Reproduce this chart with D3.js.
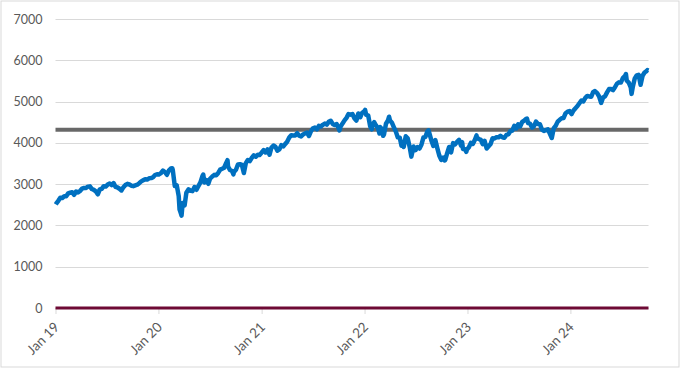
<!DOCTYPE html>
<html><head><meta charset="utf-8">
<script src="https://cdn.jsdelivr.net/npm/d3@7/dist/d3.min.js"></script>
<style>html,body{margin:0;padding:0;background:#fff;}svg{display:block;}</style>
</head><body><div id="chart"></div>
<script>
const dates = [
"2019-01-02","2019-01-04","2019-01-11","2019-01-18","2019-01-25","2019-02-01","2019-02-08","2019-02-15","2019-02-22","2019-03-01","2019-03-08","2019-03-15","2019-03-22","2019-03-29","2019-04-05","2019-04-12","2019-04-18","2019-04-26","2019-05-03","2019-05-10","2019-05-17","2019-05-24","2019-05-31","2019-06-07","2019-06-14","2019-06-21","2019-06-28","2019-07-05","2019-07-12","2019-07-19","2019-07-26","2019-08-02","2019-08-09","2019-08-16","2019-08-23","2019-08-30","2019-09-06","2019-09-13","2019-09-20","2019-09-27","2019-10-04","2019-10-11","2019-10-18","2019-10-25","2019-11-01","2019-11-08","2019-11-15","2019-11-22","2019-11-29","2019-12-06","2019-12-13","2019-12-20","2019-12-27","2019-12-31",
"2020-01-03","2020-01-10","2020-01-17","2020-01-24","2020-01-31","2020-02-07","2020-02-14","2020-02-19","2020-02-21","2020-02-28","2020-03-06","2020-03-13","2020-03-16","2020-03-20","2020-03-23","2020-03-27","2020-04-03","2020-04-09","2020-04-17","2020-04-24","2020-05-01","2020-05-08","2020-05-15","2020-05-22","2020-05-29","2020-06-05","2020-06-08","2020-06-12","2020-06-19","2020-06-26","2020-07-02","2020-07-10","2020-07-17","2020-07-24","2020-07-31","2020-08-07","2020-08-14","2020-08-21","2020-08-28","2020-09-02","2020-09-04","2020-09-11","2020-09-18","2020-09-23","2020-09-25","2020-10-02","2020-10-09","2020-10-16","2020-10-23","2020-10-30","2020-11-06","2020-11-13","2020-11-20","2020-11-27","2020-12-04","2020-12-11","2020-12-18","2020-12-24","2020-12-31",
"2021-01-08","2021-01-15","2021-01-22","2021-01-29","2021-02-05","2021-02-12","2021-02-19","2021-02-26","2021-03-05","2021-03-12","2021-03-19","2021-03-26","2021-04-01","2021-04-09","2021-04-16","2021-04-23","2021-04-30","2021-05-07","2021-05-14","2021-05-21","2021-05-28","2021-06-04","2021-06-11","2021-06-18","2021-06-25","2021-07-02","2021-07-09","2021-07-16","2021-07-23","2021-07-30","2021-08-06","2021-08-13","2021-08-20","2021-08-27","2021-09-03","2021-09-10","2021-09-17","2021-09-24","2021-10-01","2021-10-04","2021-10-08","2021-10-15","2021-10-22","2021-10-29","2021-11-05","2021-11-12","2021-11-19","2021-11-26","2021-12-03","2021-12-10","2021-12-17","2021-12-23","2021-12-31",
"2022-01-03","2022-01-07","2022-01-14","2022-01-21","2022-01-27","2022-01-28","2022-02-04","2022-02-11","2022-02-18","2022-02-23","2022-02-25","2022-03-04","2022-03-08","2022-03-11","2022-03-18","2022-03-25","2022-03-29","2022-04-01","2022-04-08","2022-04-14","2022-04-22","2022-04-29","2022-05-06","2022-05-12","2022-05-13","2022-05-20","2022-05-27","2022-06-03","2022-06-10","2022-06-16","2022-06-24","2022-07-01","2022-07-08","2022-07-15","2022-07-22","2022-07-29","2022-08-05","2022-08-12","2022-08-16","2022-08-19","2022-08-26","2022-09-02","2022-09-09","2022-09-16","2022-09-23","2022-09-30","2022-10-07","2022-10-12","2022-10-14","2022-10-21","2022-10-28","2022-11-04","2022-11-11","2022-11-18","2022-11-25","2022-12-02","2022-12-09","2022-12-13","2022-12-16","2022-12-23","2022-12-28","2022-12-30",
"2023-01-06","2023-01-13","2023-01-20","2023-01-27","2023-02-02","2023-02-03","2023-02-10","2023-02-17","2023-02-24","2023-03-03","2023-03-10","2023-03-17","2023-03-24","2023-03-31","2023-04-07","2023-04-14","2023-04-21","2023-04-28","2023-05-05","2023-05-12","2023-05-19","2023-05-26","2023-06-02","2023-06-09","2023-06-16","2023-06-23","2023-06-30","2023-07-07","2023-07-14","2023-07-21","2023-07-28","2023-07-31","2023-08-04","2023-08-11","2023-08-18","2023-08-25","2023-09-01","2023-09-08","2023-09-15","2023-09-22","2023-09-29","2023-10-06","2023-10-13","2023-10-20","2023-10-27","2023-11-03","2023-11-10","2023-11-17","2023-11-24","2023-12-01","2023-12-08","2023-12-15","2023-12-22","2023-12-29",
"2024-01-05","2024-01-12","2024-01-19","2024-01-26","2024-02-02","2024-02-09","2024-02-16","2024-02-23","2024-03-01","2024-03-08","2024-03-15","2024-03-22","2024-03-28","2024-04-05","2024-04-12","2024-04-19","2024-04-26","2024-05-03","2024-05-10","2024-05-17","2024-05-24","2024-05-31","2024-06-07","2024-06-14","2024-06-21","2024-06-28","2024-07-05","2024-07-12","2024-07-16","2024-07-19","2024-07-26","2024-08-02","2024-08-05","2024-08-09","2024-08-16","2024-08-23","2024-08-30","2024-09-06","2024-09-13","2024-09-20","2024-09-27","2024-09-30","2024-10-04"
];
const indexValues = [
2510,2532,2596,2671,2665,2707,2708,2776,2793,2804,2743,2822,2800,2834,2893,2907,2905,2940,2946,2881,2860,2826,2752,2873,2887,2950,2942,2990,3014,2977,3026,2932,2919,2889,2847,2926,2979,3007,2992,2962,2952,2970,2986,3023,3067,3093,3120,3110,3141,3146,3169,3221,3240,3231,
3235,3265,3330,3295,3226,3328,3380,3386,3338,2954,2972,2711,2386,2305,2237,2541,2489,2790,2875,2837,2831,2930,2864,2955,3044,3194,3232,3041,3098,3009,3130,3185,3225,3216,3271,3351,3373,3397,3508,3580,3427,3341,3319,3237,3298,3348,3477,3484,3465,3270,3510,3585,3557,3638,3699,3663,3709,3703,3756,
3825,3768,3841,3714,3887,3934,3907,3811,3842,3943,3913,3975,4020,4129,4185,4180,4181,4233,4174,4156,4204,4230,4247,4166,4281,4352,4370,4327,4412,4395,4437,4468,4442,4509,4535,4459,4433,4455,4357,4300,4391,4471,4545,4605,4697,4683,4698,4595,4538,4712,4620,4725,4766,
4797,4677,4663,4398,4326,4432,4500,4419,4349,4225,4385,4329,4170,4204,4463,4543,4632,4546,4488,4393,4272,4132,4123,3930,4024,3901,4158,4109,3901,3667,3912,3825,3899,3863,3962,4130,4145,4280,4305,4228,4058,3924,4067,3873,3693,3586,3640,3577,3583,3752,3901,3771,3993,3965,4026,4072,3934,4019,3852,3845,3783,3840,
3895,3999,3973,4071,4180,4136,4090,4079,3970,4046,3862,3917,3971,4109,4105,4138,4133,4169,4136,4124,4192,4205,4282,4299,4410,4348,4450,4399,4505,4536,4582,4589,4478,4464,4370,4406,4516,4457,4450,4320,4288,4308,4327,4224,4117,4358,4415,4514,4559,4595,4604,4719,4755,4770,
4697,4784,4840,4891,4959,5027,5006,5089,5137,5124,5117,5234,5254,5204,5123,4967,5100,5128,5223,5303,5305,5278,5347,5432,5465,5460,5567,5615,5667,5505,5459,5346,5186,5344,5554,5634,5648,5408,5626,5703,5738,5762,5751
];
const averageLevel = 4320;
const zeroLevel = 0;
const yTicks = [0,1000,2000,3000,4000,5000,6000,7000];
const xTickDates = ["2019-01-01","2020-01-01","2021-01-01","2022-01-01","2023-01-01","2024-01-01"];
const xTickLabels = ["Jan 19","Jan 20","Jan 21","Jan 22","Jan 23","Jan 24"];

const W = 681, H = 369;
const parse = d3.timeParse("%Y-%m-%d");
const data = dates.map((d, i) => ({ date: parse(d), value: indexValues[i] }));

const svg = d3.select("#chart").append("svg").attr("width", W).attr("height", H);
svg.append("rect").attr("x", 1).attr("y", 1).attr("width", 678).attr("height", 366)
  .attr("fill", "#fff").attr("stroke", "#d9d9d9").attr("stroke-width", 1);

const mLeft = 55.5, mRight = 648.5, mTop = 19, mBottom = 308;
const x = d3.scaleTime().domain([parse("2019-01-01"), data[data.length - 1].date]).range([mLeft, mRight]);
const y = d3.scaleLinear().domain([0, 7000]).range([mBottom, mTop]);

const font = "Lato, 'Open Sans', sans-serif";

svg.append("g").selectAll("line").data(yTicks).join("line")
  .attr("x1", mLeft).attr("x2", mRight)
  .attr("y1", d => Math.round(y(d)) + 0.5).attr("y2", d => Math.round(y(d)) + 0.5)
  .attr("stroke", "#d9d9d9").attr("stroke-width", 1);

const yAxis = d3.axisLeft(y).tickValues(yTicks).tickSize(0).tickPadding(0).tickFormat(d3.format("d"));
const gy = svg.append("g").attr("transform", `translate(${mLeft - 13},0)`).call(yAxis);
gy.select(".domain").remove();
gy.selectAll("text").attr("fill", "#595959").style("font-family", font).style("font-size", "12.5px");

const xAxis = d3.axisBottom(x).tickValues(xTickDates.map(parse)).tickSize(6).tickPadding(0)
  .tickFormat((d, i) => xTickLabels[i]);
const gx = svg.append("g").attr("transform", `translate(0,${mBottom})`).call(xAxis);
gx.select(".domain").remove();
gx.selectAll(".tick line").attr("stroke", "#d9d9d9");
gx.selectAll("text").attr("fill", "#595959").style("font-family", font).style("font-size", "13.5px")
  .attr("text-anchor", "end").attr("dy", null).attr("y", 0)
  .attr("transform", "translate(4,20) rotate(-45)");

svg.append("line").attr("x1", mLeft).attr("x2", mRight)
  .attr("y1", y(averageLevel)).attr("y2", y(averageLevel))
  .attr("stroke", "#686868").attr("stroke-width", 4);

svg.append("line").attr("x1", mLeft).attr("x2", mRight)
  .attr("y1", y(zeroLevel)).attr("y2", y(zeroLevel))
  .attr("stroke", "#6e0a35").attr("stroke-width", 3);

const line = d3.line().x(d => x(d.date)).y(d => y(d.value));
svg.append("path").datum(data).attr("d", line).attr("fill", "none")
  .attr("stroke", "#0070c0").attr("stroke-width", 4.5).attr("stroke-linejoin", "round");
</script></body></html>
